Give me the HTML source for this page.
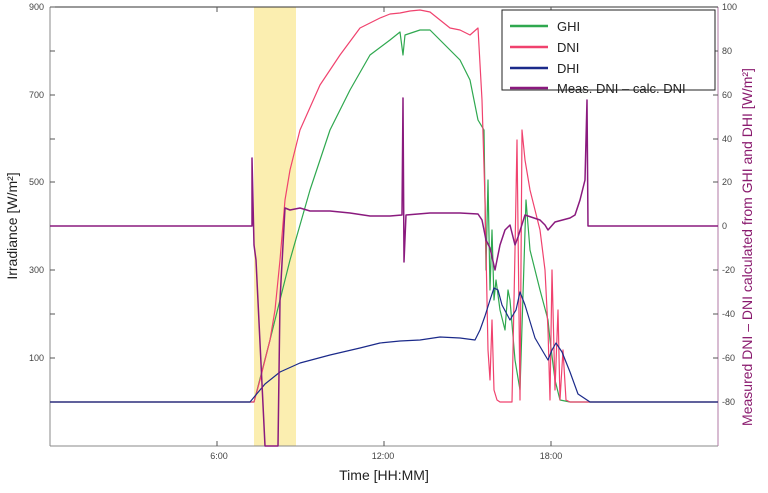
<!DOCTYPE html>
<html><head><meta charset="utf-8"><style>
body{margin:0;background:#fff;width:768px;height:488px;overflow:hidden}
svg{font-family:"Liberation Sans",sans-serif}
</style></head><body>
<svg width="768" height="488" viewBox="0 0 768 488">
<rect x="254" y="7" width="42" height="439" fill="#fbeeb0"/>
<g stroke="#888" stroke-width="1" fill="none">
<line x1="50" y1="7" x2="50" y2="446"/>
<line x1="50" y1="446" x2="718" y2="446"/>
<line x1="718" y1="7" x2="718" y2="446" stroke="#b07aa6"/>
<line x1="50" y1="7" x2="718" y2="7" stroke="#333"/>
</g>
<g stroke="#555" stroke-width="1">
<line x1="50" y1="7" x2="55" y2="7"/><line x1="50" y1="51" x2="55" y2="51"/><line x1="50" y1="95" x2="55" y2="95"/><line x1="50" y1="139" x2="55" y2="139"/><line x1="50" y1="182" x2="55" y2="182"/><line x1="50" y1="226" x2="55" y2="226"/><line x1="50" y1="270" x2="55" y2="270"/><line x1="50" y1="314" x2="55" y2="314"/><line x1="50" y1="358" x2="55" y2="358"/>
<line x1="217" y1="446" x2="217" y2="441"/><line x1="384" y1="446" x2="384" y2="441"/><line x1="551" y1="446" x2="551" y2="441"/>
<line x1="217" y1="7" x2="217" y2="12"/><line x1="384" y1="7" x2="384" y2="12"/><line x1="551" y1="7" x2="551" y2="12"/>
<line x1="713" y1="51" x2="718" y2="51"/><line x1="713" y1="95" x2="718" y2="95"/><line x1="713" y1="139" x2="718" y2="139"/><line x1="713" y1="182" x2="718" y2="182"/><line x1="713" y1="226" x2="718" y2="226"/><line x1="713" y1="270" x2="718" y2="270"/><line x1="713" y1="314" x2="718" y2="314"/><line x1="713" y1="358" x2="718" y2="358"/><line x1="713" y1="402" x2="718" y2="402"/>
</g>
<g font-size="9" fill="#444" text-anchor="end">
<text x="44" y="10">900</text><text x="44" y="98">700</text><text x="44" y="185">500</text><text x="44" y="273">300</text><text x="44" y="361">100</text>
</g>
<g font-size="9" fill="#444">
<text x="722" y="10">100</text><text x="722" y="54">80</text><text x="722" y="98">60</text><text x="722" y="142">40</text><text x="722" y="185">20</text><text x="722" y="229">0</text><text x="722" y="273">-20</text><text x="722" y="317">-40</text><text x="722" y="361">-60</text><text x="722" y="405">-80</text>
</g>
<g font-size="9" fill="#444" text-anchor="middle">
<text x="219" y="459">6:00</text><text x="383" y="459">12:00</text><text x="551" y="459">18:00</text>
</g>
<text x="384" y="480" font-size="14" fill="#222" text-anchor="middle">Time [HH:MM]</text>
<text transform="translate(17,226) rotate(-90)" font-size="14" fill="#222" text-anchor="middle">Irradiance [W/m²]</text>
<text transform="translate(752,247) rotate(-90)" font-size="14" fill="#8a1a6e" text-anchor="middle">Measured DNI – DNI calculated from GHI and DHI [W/m²]</text>
<g fill="none" stroke-width="1.2" stroke-linejoin="round">
<polyline stroke="#2fa84f" points="50,402 254,402 270,340 290,260 310,190 330,130 350,90 370,55 390,40 400,32 403,55 405,35 420,30 430,30 440,40 460,60 470,80 478,120 484,130 486,270 488,180 490,290 492,230 494,300 496,280 500,310 505,330 508,290 510,300 515,360 520,390 526,200 530,250 540,290 548,320 550,340 555,380 560,400 570,402 718,402"/>
<polyline stroke="#f0426e" points="50,402 254,402 260,380 270,340 275,310 280,260 285,200 290,170 300,130 320,85 340,55 360,28 380,18 390,14 400,13 410,11 420,10 430,12 440,20 450,28 460,30 470,35 478,28 482,100 485,200 488,350 490,380 492,320 494,390 497,400 500,402 512,402 515,250 517,140 520,400 522,130 525,160 530,190 540,230 545,270 548,330 550,400 552,270 555,390 558,310 560,400 563,350 566,400 570,402 718,402"/>
<polyline stroke="#1b2a8a" points="50,402 250,402 255,396 265,384 280,372 300,363 330,355 360,348 380,343 400,341 420,340 440,337 460,338 475,340 480,330 485,316 490,300 494,288 498,290 502,305 510,320 516,310 520,292 525,305 535,338 545,355 548,360 552,350 556,343 562,352 570,372 578,394 590,402 718,402"/>
<polyline stroke="#8a1a7e" stroke-width="1.5" points="50,226 252,226 252,158 254,245 256,260 265,446 278,446 280,300 285,208 290,210 300,208 310,211 330,211 350,213 370,216 390,216 402,215 403,98 404,262 406,215 430,213 460,213 478,214 482,220 486,240 490,248 495,270 500,245 505,230 510,225 515,245 518,237 525,215 540,220 545,225 548,230 555,222 570,218 575,215 580,200 585,180 587,100 588,226 718,226"/>
</g>
<rect x="502" y="10" width="213" height="80" fill="#fff" stroke="#222" stroke-width="1"/>
<g stroke-width="2.5">
<line x1="510" y1="26" x2="548" y2="26" stroke="#2fa84f"/>
<line x1="510" y1="47" x2="548" y2="47" stroke="#f0426e"/>
<line x1="510" y1="68" x2="548" y2="68" stroke="#1b2a8a"/>
<line x1="510" y1="88" x2="548" y2="88" stroke="#8a1a7e"/>
</g>
<g font-size="13" fill="#222">
<text x="557" y="31">GHI</text><text x="557" y="52">DNI</text><text x="557" y="73">DHI</text><text x="557" y="93">Meas. DNI – calc. DNI</text>
</g>
</svg>
</body></html>
